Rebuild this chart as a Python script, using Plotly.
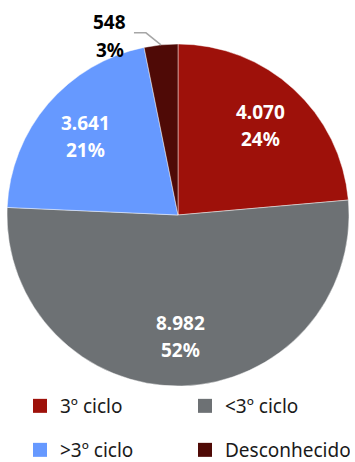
import math
import plotly.graph_objects as go

# Students by schooling level
categories = ["3º ciclo", "<3º ciclo", ">3º ciclo", "Desconhecido"]
values = [4070, 8982, 3641, 548]
colors = ["#9E110A", "#6D7174", "#6699FF", "#4F0A06"]

W, H = 355, 462
CX, CY, R = 178, 215, 171  # pie centre and radius in pixels
LABEL_R = 0.71             # radial position of the inside labels (fraction of R)
LINE_GAP = 13.5            # half the distance between the two label lines

total = sum(values)
FONT = "Noto Sans"


def px(x):
    return x / W


def py(y):
    return 1 - y / H


def fmt_value(v):
    return f"{v:,}".replace(",", ".")


def fmt_pct(v):
    return f"{round(100 * v / total)}%"


fig = go.Figure()

fig.add_trace(go.Pie(
    labels=categories,
    values=values,
    marker=dict(colors=colors, line=dict(color="rgba(255,255,255,0.6)", width=0.75)),
    sort=False,
    direction="clockwise",
    rotation=0,
    textinfo="none",
    showlegend=False,
    hoverinfo="label+value+percent",
    domain=dict(x=[px(CX - R), px(CX + R)], y=[py(CY + R), py(CY - R)]),
))

label_font = dict(family=FONT, size=19, weight="bold")

# value and share labels, placed along each slice's bisector
cum = 0
for i, v in enumerate(values):
    mid = 2 * math.pi * (cum + v / 2) / total
    cum += v
    if i == len(values) - 1:
        continue
    lx = CX + LABEL_R * R * math.sin(mid)
    ly = CY - LABEL_R * R * math.cos(mid)
    for text, dy in ((fmt_value(v), -LINE_GAP), (fmt_pct(v), LINE_GAP)):
        fig.add_annotation(
            x=px(lx), y=py(ly + dy), xref="paper", yref="paper",
            xanchor="center", yanchor="middle",
            text=text, showarrow=False,
            font=dict(color="white", **label_font),
        )

# the smallest slice is labelled outside, with a leader line to its rim
small = values[-1]
mid = 2 * math.pi * (total - small / 2) / total
rim_x = CX + R * math.sin(mid)
rim_y = CY - R * math.cos(mid)
elbow_x, elbow_y = rim_x - 15, rim_y - 12
end_x = elbow_x - 12

fig.add_shape(
    type="path",
    xref="paper", yref="paper",
    path=f"M {px(rim_x)},{py(rim_y)} L {px(elbow_x)},{py(elbow_y)} L {px(end_x)},{py(elbow_y)}",
    line=dict(color="#A6A6A6", width=1.5),
)
lab_x = end_x - 24
lab_y = elbow_y + 3
for text, dy in ((fmt_value(small), -14), (fmt_pct(small), 14)):
    fig.add_annotation(
        x=px(lab_x), y=py(lab_y + dy), xref="paper", yref="paper",
        xanchor="center", yanchor="middle",
        text=text, showarrow=False,
        font=dict(color="black", **label_font),
    )

# legend entries, two per row
for i, (cat, col) in enumerate(zip(categories, colors)):
    fig.add_trace(go.Scatter(
        x=[None], y=[None], mode="markers", name=cat,
        marker=dict(symbol="square", size=14, color=col),
        legend="legend" if i < 2 else "legend2",
    ))

legend_common = dict(
    orientation="h", xanchor="left", yanchor="middle",
    font=dict(family=FONT, size=19, color="#1A1A1A"),
    entrywidth=120, entrywidthmode="pixels",
    bgcolor="rgba(0,0,0,0)", itemclick=False, itemdoubleclick=False,
)

fig.update_layout(
    width=W, height=H,
    margin=dict(l=0, r=0, t=0, b=0, autoexpand=False),
    paper_bgcolor="white", plot_bgcolor="white",
    font=dict(family=FONT),
    xaxis=dict(visible=False),
    yaxis=dict(visible=False),
    legend=dict(x=px(20), y=py(406), **legend_common),
    legend2=dict(x=px(20), y=py(450), **legend_common),
)

fig.write_html("out.html")
